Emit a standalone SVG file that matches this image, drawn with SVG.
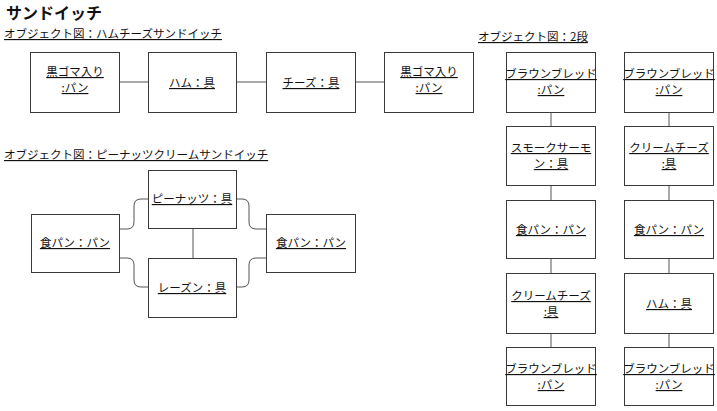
<svg xmlns="http://www.w3.org/2000/svg" width="717" height="411" viewBox="0 0 717 411">
<style>
text{font-family:"Noto Sans CJK JP","Noto Sans",sans-serif;fill:#111}
.t{font-size:16px;font-weight:bold}
.h{font-size:11.5px;text-decoration:underline}
.l{font-size:11.5px;text-decoration:underline;text-anchor:middle;dominant-baseline:central}
.box{fill:#fff;stroke:#3a3a3a;stroke-width:1}
.c{fill:none;stroke:#555;stroke-width:1}
</style>
<rect width="717" height="411" fill="#fff"/>
<text class="t" x="6" y="19">サンドイッチ</text>
<text class="h" x="4" y="38">オブジェクト図：ハムチーズサンドイッチ</text>
<text class="h" x="4" y="159">オブジェクト図：ピーナッツクリームサンドイッチ</text>
<text class="h" x="478" y="41">オブジェクト図：2段</text>
<g id="connectors">
<path class="c" d="M119,82H148M236,82H266M355,82H384"/>
<path class="c" d="M193,229V258"/>
<path class="c" d="M119,229H127Q134,229 134,222V206Q134,199 141,199H148"/>
<path class="c" d="M119,258H127Q134,258 134,265V280Q134,287 141,287H148"/>
<path class="c" d="M236,199H242Q249,199 249,206V222Q249,229 256,229H266"/>
<path class="c" d="M236,287H242Q249,287 249,280V265Q249,258 256,258H266"/>
<path class="c" d="M551,112V126M551,185V200M551,258V273M551,333V347"/>
<path class="c" d="M669,112V126M669,185V200M669,258V273M669,333V347"/>
</g>
<g id="n1"><rect class="box" x="30.5" y="52.5" width="89" height="60"/><text class="l" x="75" y="71">黒ゴマ入り</text><text class="l" x="75" y="87">:パン</text></g>
<g id="n2"><rect class="box" x="148.5" y="52.5" width="88" height="60"/><text class="l" x="192" y="82">ハム：具</text></g>
<g id="n3"><rect class="box" x="266.5" y="52.5" width="89" height="60"/><text class="l" x="311" y="82">チーズ：具</text></g>
<g id="n4"><rect class="box" x="384.5" y="52.5" width="89" height="60"/><text class="l" x="429" y="71">黒ゴマ入り</text><text class="l" x="429" y="87">:パン</text></g>
<g id="p1"><rect class="box" x="148.5" y="170.5" width="88" height="58"/><text class="l" x="192" y="198">ピーナッツ：具</text></g>
<g id="p2"><rect class="box" x="148.5" y="258.5" width="88" height="59"/><text class="l" x="192" y="287">レーズン：具</text></g>
<g id="p3"><rect class="box" x="31.5" y="214.5" width="88" height="58"/><text class="l" x="75" y="242">食パン：パン</text></g>
<g id="p4"><rect class="box" x="266.5" y="214.5" width="89" height="58"/><text class="l" x="311" y="242">食パン：パン</text></g>
<g id="a1"><rect class="box" x="506.5" y="52.5" width="89" height="60"/><text class="l" x="551" y="73">ブラウンブレッド</text><text class="l" x="551" y="89">:パン</text></g>
<g id="a2"><rect class="box" x="506.5" y="126.5" width="89" height="59"/><text class="l" x="551" y="147">スモークサーモ</text><text class="l" x="551" y="163">ン：具</text></g>
<g id="a3"><rect class="box" x="506.5" y="200.5" width="89" height="58"/><text class="l" x="551" y="229">食パン：パン</text></g>
<g id="a4"><rect class="box" x="506.5" y="273.5" width="89" height="60"/><text class="l" x="551" y="295">クリームチーズ</text><text class="l" x="551" y="311">:具</text></g>
<g id="a5"><rect class="box" x="506.5" y="347.5" width="89" height="58"/><text class="l" x="551" y="368">ブラウンブレッド</text><text class="l" x="551" y="384">:パン</text></g>
<g id="b1"><rect class="box" x="624.5" y="52.5" width="89" height="60"/><text class="l" x="669" y="73">ブラウンブレッド</text><text class="l" x="669" y="89">:パン</text></g>
<g id="b2"><rect class="box" x="624.5" y="126.5" width="89" height="59"/><text class="l" x="669" y="147">クリームチーズ</text><text class="l" x="669" y="163">:具</text></g>
<g id="b3"><rect class="box" x="624.5" y="200.5" width="89" height="58"/><text class="l" x="669" y="229">食パン：パン</text></g>
<g id="b4"><rect class="box" x="624.5" y="273.5" width="89" height="60"/><text class="l" x="669" y="303">ハム：具</text></g>
<g id="b5"><rect class="box" x="624.5" y="347.5" width="89" height="58"/><text class="l" x="669" y="368">ブラウンブレッド</text><text class="l" x="669" y="384">:パン</text></g>
</svg>
